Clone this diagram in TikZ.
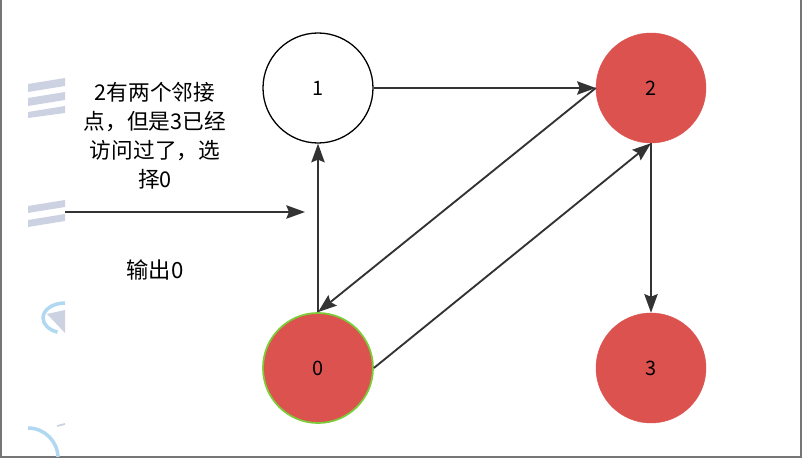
\documentclass[tikz,border=0pt]{standalone}
\usepackage{fontspec}
\setmainfont{Noto Sans CJK SC}
\usetikzlibrary{arrows.meta}
\definecolor{nodered}{RGB}{220,82,78}
\definecolor{visitgreen}{RGB}{124,204,58}
\definecolor{edgegray}{RGB}{51,51,51}
\definecolor{framegray}{RGB}{118,118,118}
\definecolor{markgray}{RGB}{204,210,226}
\definecolor{markblue}{RGB}{176,216,240}
\begin{document}
\begin{tikzpicture}[x=0.03cm,y=-0.03cm,
  vertex/.style={circle,minimum size=3.3cm,inner sep=0pt,font=\fontsize{17}{20}\selectfont},
  done/.style={vertex,fill=nodered,draw=nodered},
  edge/.style={draw=edgegray,line width=1.6pt,-{Stealth[length=0.56cm,width=0.4cm,inset=0.08cm]}}]
\useasboundingbox (0,0) rectangle (803,459);
% Rahmen
\draw[framegray,line width=1.6pt] (1,0) -- (1,457) -- (801,457) -- (801,0);
% Wasserzeichen-Reste
\begin{scope}
\clip (28,60) rectangle (65,457);
\fill[markgray] (28,84) -- (65,78) -- (65,86) -- (28,92) -- cycle;
\fill[markgray] (28,98) -- (65,92) -- (65,100) -- (28,106) -- cycle;
\fill[markgray] (28,112) -- (65,106) -- (65,113) -- (28,118) -- cycle;
\fill[markgray] (28,206) -- (65,200) -- (65,207) -- (28,213) -- cycle;
\fill[markgray] (28,220) -- (65,214) -- (65,221) -- (28,227) -- cycle;
\draw[markblue,line width=3pt] (65,303) arc (270:110:22 and 15);
\fill[markgray] (47,314) -- (65,310) -- (65,333) -- cycle;
\draw[markblue,line width=3pt] (28,428) arc (270:360:30 and 30);
\draw[markgray,line width=1.5pt] (57,426) -- (65,424);
\end{scope}
% Knoten
\node[vertex,draw=black,line width=1.1pt] (n1) at (318,88) {1};
\node[done] (n2) at (651,88) {2};
\node[done,draw=visitgreen,line width=1.5pt] (n0) at (318,368) {0};
\node[done] (n3) at (651,368) {3};
% Kanten
\draw[edge] (n1.east) -- (n2.west);
\draw[edge] (n0.north) -- (n1.south);
\draw[edge] (n2.west) -- (n0.north);
\draw[edge] (n0.east) -- (n2.south);
\draw[edge] (n2.south) -- (n3.north);
% Hinweis
\coordinate (from) at (65,212);
\coordinate (to) at (305,212);
\draw[edge] (from) -- (to);
\node[align=center,font=\fontsize{18.5}{24.7}\selectfont] (note) at (155,136)
  {2有两个邻接\\点，但是3已经\\访问过了，选\\择0};
\node[font=\fontsize{19}{24.7}\selectfont] (out) at (155,270) {输出0};
\end{tikzpicture}
\end{document}
